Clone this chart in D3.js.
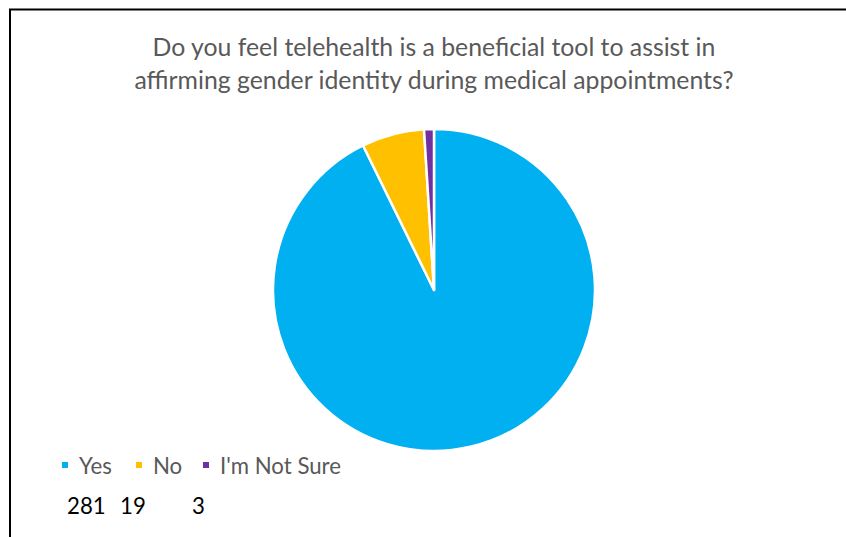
<!DOCTYPE html>
<html>
<head>
<meta charset="utf-8">
<script src="https://cdn.jsdelivr.net/npm/d3@7"></script>
<style>
  html, body { margin: 0; padding: 0; background: #fff; }
  svg { display: block; }
</style>
</head>
<body>
<svg id="chart" width="846" height="537"></svg>
<script>
// Survey responses
const categories = ["Yes", "No", "I'm Not Sure"];
const counts = [281, 19, 3];
const colors = ["#00B0F0", "#FFC000", "#7030A0"];
const titleLines = [
  "Do you feel telehealth is a beneficial tool to assist in",
  "affirming gender identity during medical appointments?"
];

const W = 846, H = 537;
const FONT = "Lato, Carlito, Calibri, 'Liberation Sans', sans-serif";
const svg = d3.select("#chart");

// Chart frame (top and left edges visible)
svg.append("path")
  .attr("d", `M10,${H} L10,9.5 L${W},9.5`)
  .attr("fill", "none")
  .attr("stroke", "#000")
  .attr("stroke-width", 2);

// Title, sized so the first line spans the intended width
const title = svg.append("g").attr("font-family", FONT).attr("fill", "#595959");
const titleY = [56, 89];
const tLines = title.selectAll("text").data(titleLines).join("text")
  .attr("x", 434)
  .attr("y", (d, i) => titleY[i])
  .attr("text-anchor", "middle")
  .attr("font-size", 22)
  .text(d => d);
const w0 = tLines.node().getComputedTextLength();
tLines.attr("font-size", 22 * 563 / w0);

// Pie
const cx = 434, cy = 290, r = 161;
const pie = d3.pie().sort(null).value(d => d.value);
const arcs = pie(categories.map((c, i) => ({ name: c, value: counts[i], color: colors[i] })));
const arc = d3.arc().innerRadius(0).outerRadius(r);

svg.append("g")
  .attr("transform", `translate(${cx},${cy})`)
  .selectAll("path").data(arcs).join("path")
  .attr("d", arc)
  .attr("fill", d => d.data.color)
  .attr("stroke", "#fff")
  .attr("stroke-width", 2.5)
  .attr("stroke-linejoin", "round");

// Legend and counts share one font size, fitted to the last legend label
const probe = svg.append("text").attr("font-family", FONT).attr("font-size", 20)
  .text(categories[categories.length - 1]);
const fs = 20 * 121 / probe.node().getComputedTextLength();
probe.remove();

// Legend: swatch positions along the row
const legendX = [62, 136, 203];
const legendY = 474;
const legend = svg.append("g").attr("font-family", FONT).attr("font-size", fs)
  .selectAll("g").data(categories).join("g")
  .attr("transform", (d, i) => `translate(${legendX[i]},${legendY})`);
legend.append("rect")
  .attr("x", 0).attr("y", -12)
  .attr("width", 6).attr("height", 6)
  .attr("fill", (d, i) => colors[i]);
legend.append("text")
  .attr("x", 17).attr("y", 0)
  .attr("fill", "#595959")
  .text(d => d);

// Response counts
const countX = [67, 120, 192];
svg.append("g").attr("font-family", FONT).attr("font-size", fs).attr("fill", "#000")
  .selectAll("text").data(counts).join("text")
  .attr("x", (d, i) => countX[i])
  .attr("y", 514)
  .text(d => d);
</script>
</body>
</html>
